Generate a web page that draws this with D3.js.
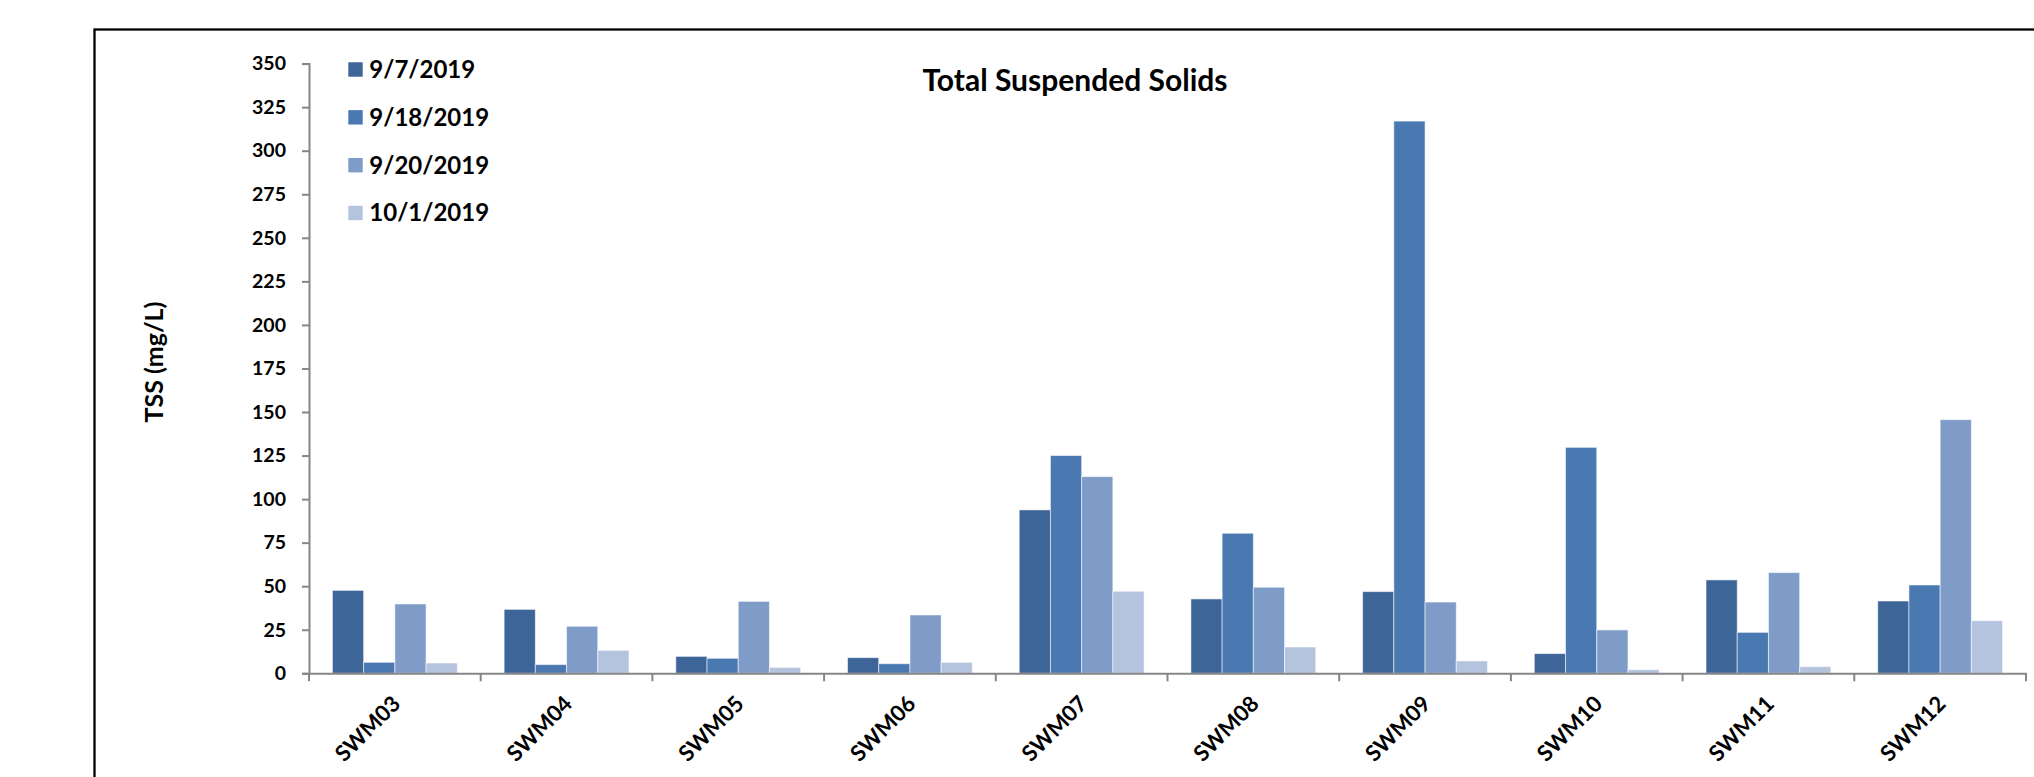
<!DOCTYPE html>
<html>
<head>
<meta charset="utf-8">
<script src="https://cdn.jsdelivr.net/npm/d3@7"></script>
<style>
  html, body { margin: 0; padding: 0; background: #fff; overflow: hidden; }
  svg { display: block; }
  text { font-family: "Lato", "Open Sans", sans-serif; font-weight: bold; fill: #000; }
</style>
</head>
<body>
<svg id="chart" width="2034" height="777"></svg>
<script>
// Sampling sites along the x axis
const categories = ["SWM03", "SWM04", "SWM05", "SWM06", "SWM07", "SWM08", "SWM09", "SWM10", "SWM11", "SWM12"];

// Sampling dates (one bar series each)
const seriesNames = ["9/7/2019", "9/18/2019", "9/20/2019", "10/1/2019"];

// TSS (mg/L) per site, one array per sampling date
const tss_0907 = [47.6, 36.7, 9.7, 9.0, 93.8, 42.7, 46.9, 11.3, 53.6, 41.5];
const tss_0918 = [6.3, 5.0, 8.6, 5.5, 125.0, 80.4, 317.0, 129.7, 23.5, 50.7];
const tss_0920 = [39.8, 27.0, 41.3, 33.5, 112.9, 49.4, 40.9, 24.9, 57.8, 145.6];
const tss_1001 = [5.9, 13.2, 3.4, 6.3, 47.1, 15.1, 7.1, 2.1, 3.8, 30.2];

// Y axis ticks
const yTicks = [0, 25, 50, 75, 100, 125, 150, 175, 200, 225, 250, 275, 300, 325, 350];

const seriesValues = [tss_0907, tss_0918, tss_0920, tss_1001];
const colors = ["#3d6597", "#4a78b0", "#7f9cc8", "#b4c4df"];

const svg = d3.select("#chart");

// outer frame
svg.append("rect")
  .attr("x", 94.5).attr("y", 29.5)
  .attr("width", 2100).attr("height", 900)
  .attr("fill", "none").attr("stroke", "#000").attr("stroke-width", 2.3);

const plot = { left: 309, right: 2026, top: 63.6, bottom: 673.3 };

const x = d3.scaleBand().domain(categories).range([plot.left, plot.right]).padding(0);
const y = d3.scaleLinear().domain([0, 350]).range([plot.bottom, plot.top]);

// bars: gap width of 1.5 bar widths between groups
const barW = x.bandwidth() / 5.5;
const xs = d3.scaleBand().domain(seriesNames).range([0, 4 * barW]).padding(0);

const groups = svg.append("g").selectAll("g")
  .data(categories)
  .join("g")
  .attr("transform", c => `translate(${x(c) + x.bandwidth() / 2 - 2 * barW},0)`);

groups.selectAll("rect")
  .data((c, i) => seriesNames.map((s, k) => ({ s, k, v: seriesValues[k][i] })))
  .join("rect")
  .attr("x", d => xs(d.s))
  .attr("y", d => y(d.v))
  .attr("width", xs.bandwidth())
  .attr("height", d => y(0) - y(d.v))
  .attr("fill", d => colors[d.k])
  .attr("stroke", "rgba(255,255,255,0.55)")
  .attr("stroke-width", 1);

// y axis
const yAxis = svg.append("g")
  .attr("transform", `translate(${plot.left},0)`)
  .call(d3.axisLeft(y).tickValues(yTicks).tickSize(7).tickPadding(16).tickFormat(d3.format("d")));
yAxis.select(".domain").attr("stroke", "#868686").attr("stroke-width", 2);
yAxis.selectAll(".tick line").attr("stroke", "#868686").attr("stroke-width", 2);
yAxis.selectAll(".tick text")
  .attr("font-size", 19.5)
  .attr("font-family", "Lato, sans-serif")
  .attr("font-weight", "bold")
  .attr("fill", "#000");

// x axis
const xAxis = svg.append("g")
  .attr("transform", `translate(0,${plot.bottom})`)
  .call(d3.axisBottom(x).tickSize(0).tickFormat(""));
xAxis.select(".domain").attr("stroke", "#868686").attr("stroke-width", 2);

// category boundary ticks
const bounds = categories.map(c => x(c)).concat([plot.right]);
svg.append("g").selectAll("line")
  .data(bounds)
  .join("line")
  .attr("x1", d => d).attr("x2", d => d)
  .attr("y1", plot.bottom).attr("y2", plot.bottom + 8)
  .attr("stroke", "#868686").attr("stroke-width", 2);

// rotated category labels
svg.append("g").selectAll("text")
  .data(categories)
  .join("text")
  .attr("transform", c => `translate(${x(c) + x.bandwidth() / 2 + 7},${plot.bottom + 32}) rotate(-45)`)
  .attr("text-anchor", "end")
  .attr("font-size", 22)
  .text(c => c);

// title
svg.append("text")
  .attr("x", 1075).attr("y", 91)
  .attr("text-anchor", "middle")
  .attr("font-size", 30)
  .text("Total Suspended Solids");

// y axis title
svg.append("text")
  .attr("transform", "translate(163,362) rotate(-90)")
  .attr("text-anchor", "middle")
  .attr("font-size", 25)
  .text("TSS (mg/L)");

// legend
const legendY = d3.scalePoint().domain(seriesNames).range([69.5, 213]);
const legend = svg.append("g").selectAll("g")
  .data(seriesNames)
  .join("g")
  .attr("transform", s => `translate(348.3,${legendY(s)})`);
legend.append("rect")
  .attr("x", 0).attr("y", -7.2)
  .attr("width", 14.4).attr("height", 14.4)
  .attr("fill", (s, i) => colors[i]);
legend.append("text")
  .attr("x", 21).attr("y", 0)
  .attr("dy", "0.35em")
  .attr("font-size", 24)
  .text(s => s);
</script>
</body>
</html>
